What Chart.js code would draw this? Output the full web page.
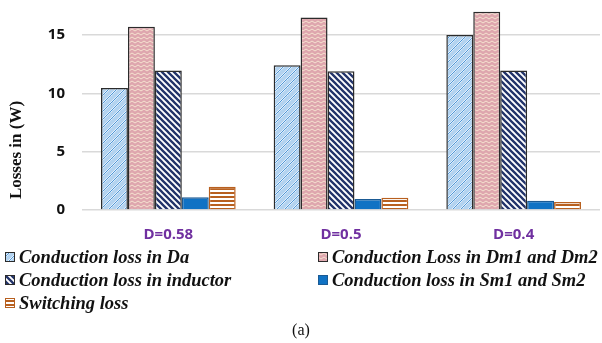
<!DOCTYPE html>
<html>
<head>
<meta charset="utf-8">
<script src="https://cdn.jsdelivr.net/npm/chart.js@4/dist/chart.umd.min.js"></script>
<style>
    html, body { margin: 0; padding: 0; background: #fff; }
    #lossChart { display: block; }
</style>
</head>
<body>
<canvas id="lossChart" width="602" height="343"></canvas>
<script>
// values (W)
const categories = ['D=0.58', 'D=0.5', 'D=0.4'];
const seriesNames = [
    'Conduction loss in Da',
    'Conduction Loss in Dm1 and Dm2',
    'Conduction loss in inductor',
    'Conduction loss in Sm1 and Sm2',
    'Switching loss'
];
const daLoss = [10.45, 12.4, 15.0];
const dmLoss = [15.7, 16.5, 17.0];
const inductorLoss = [11.95, 11.9, 11.95];
const smLoss = [1.1, 0.95, 0.8];
const switchingLoss = [2.0, 1.05, 0.68];
const yTicks = [0, 5, 10, 15];

function makeTile(w, h, draw) {
    const c = document.createElement('canvas');
    c.width = w;
    c.height = h;
    draw(c.getContext('2d'), w, h);
    return document.createElement('canvas').getContext('2d').createPattern(c, 'repeat');
}

// light blue with white diagonal dashes
const daPattern = makeTile(8, 8, (g, w, h) => {
    g.fillStyle = '#b3d3f0';
    g.fillRect(0, 0, w, h);
    g.strokeStyle = '#ffffff';
    g.lineWidth = 1.6;
    g.beginPath();
    g.moveTo(0, 6); g.lineTo(6, 0);
    g.moveTo(4, 10); g.lineTo(10, 4);
    g.stroke();
    g.strokeStyle = '#4f97d8';
    g.lineWidth = 1;
    g.beginPath();
    g.moveTo(-2, 8); g.lineTo(8, -2);
    g.moveTo(2, 12); g.lineTo(12, 2);
    g.stroke();
});

// pink zigzag
const dmPattern = makeTile(6, 4, (g, w, h) => {
    g.fillStyle = '#dea6ae';
    g.fillRect(0, 0, w, h);
    g.strokeStyle = '#f5e3cf';
    g.lineWidth = 1;
    g.beginPath();
    g.moveTo(0, 1); g.lineTo(3, 3); g.lineTo(6, 1);
    g.stroke();
});

// navy diagonal stripes
const inductorPattern = makeTile(6, 6, (g, w, h) => {
    g.fillStyle = '#ffffff';
    g.fillRect(0, 0, w, h);
    g.strokeStyle = '#22336a';
    g.lineWidth = 2.3;
    g.beginPath();
    g.moveTo(-1, -1); g.lineTo(7, 7);
    g.moveTo(-7, -1); g.lineTo(1, 7);
    g.moveTo(5, -1); g.lineTo(13, 7);
    g.stroke();
});

// brown horizontal stripes
const switchingPattern = makeTile(4, 4, (g, w, h) => {
    g.fillStyle = '#ffffff';
    g.fillRect(0, 0, w, h);
    g.fillStyle = '#b8601f';
    g.fillRect(0, 0, w, 2);
});

const smFill = '#1072c4';

const datasets = [
    { label: seriesNames[0], data: daLoss, backgroundColor: daPattern, borderColor: '#2b2b2b' },
    { label: seriesNames[1], data: dmLoss, backgroundColor: dmPattern, borderColor: '#2b2b2b' },
    { label: seriesNames[2], data: inductorLoss, backgroundColor: inductorPattern, borderColor: '#2b2b2b' },
    { label: seriesNames[3], data: smLoss, backgroundColor: smFill, borderColor: '#1a5a94' },
    { label: seriesNames[4], data: switchingLoss, backgroundColor: switchingPattern, borderColor: '#b8601f' }
].map(ds => Object.assign(ds, {
    borderWidth: 1.5,
    categoryPercentage: 0.78,
    barPercentage: 1.0
}));

// axis title, legend block and caption drawn straight on the canvas
const extrasPlugin = {
    id: 'extras',
    afterDraw(chart) {
        const ctx = chart.ctx;
        ctx.save();

        ctx.translate(17, 150);
        ctx.rotate(-Math.PI / 2);
        ctx.fillStyle = '#111';
        ctx.font = 'bold 17px "Liberation Serif"';
        ctx.textAlign = 'center';
        ctx.textBaseline = 'middle';
        ctx.fillText('Losses in (W)', 0, 0);
        ctx.setTransform(1, 0, 0, 1, 0, 0);

        const colBox = [5, 318];
        const rowY = [257, 280, 303];
        ctx.font = 'italic bold 18.5px "Liberation Serif"';
        ctx.textAlign = 'left';
        chart.data.datasets.forEach((ds, i) => {
            const bx = colBox[i % 2];
            const y = rowY[Math.floor(i / 2)];
            ctx.fillStyle = ds.backgroundColor;
            ctx.fillRect(bx, y - 5, 10, 10);
            ctx.strokeStyle = ds.borderColor;
            ctx.lineWidth = 1;
            ctx.strokeRect(bx + 0.5, y - 4.5, 9, 9);
            ctx.fillStyle = '#111';
            ctx.fillText(ds.label, bx + 14, y + 1);
        });

        ctx.font = '16px "Liberation Serif"';
        ctx.textAlign = 'center';
        ctx.fillText('(a)', 301, 331);
        ctx.restore();
    }
};

new Chart(document.getElementById('lossChart'), {
    type: 'bar',
    data: { labels: categories, datasets: datasets },
    plugins: [extrasPlugin],
    options: {
        responsive: false,
        animation: false,
        layout: { padding: { top: 0, right: 2, bottom: 103, left: 0 } },
        plugins: {
            legend: { display: false },
            tooltip: { enabled: false }
        },
        scales: {
            x: {
                grid: { display: false, drawTicks: false },
                border: { display: false },
                ticks: {
                    color: '#7030a0',
                    padding: 16,
                    font: { family: '"Open Sans"', size: 15, weight: 'bold' }
                },
                afterFit(scale) { scale.height = 30; }
            },
            y: {
                min: 0,
                max: 18,
                grid: { color: '#d9d9d9', lineWidth: 1.5, drawTicks: false },
                border: { display: false },
                ticks: {
                    stepSize: 5,
                    padding: 17,
                    color: '#111',
                    font: { family: '"Open Sans"', size: 15, weight: 'bold' }
                },
                afterBuildTicks(scale) {
                    scale.ticks = yTicks.map(v => ({ value: v }));
                },
                afterFit(scale) {
                    scale.width = 82;
                    // keep the plot area flush with the top edge
                    scale.paddingTop = 0;
                    scale.paddingBottom = 0;
                }
            }
        }
    }
});
</script>
</body>
</html>
